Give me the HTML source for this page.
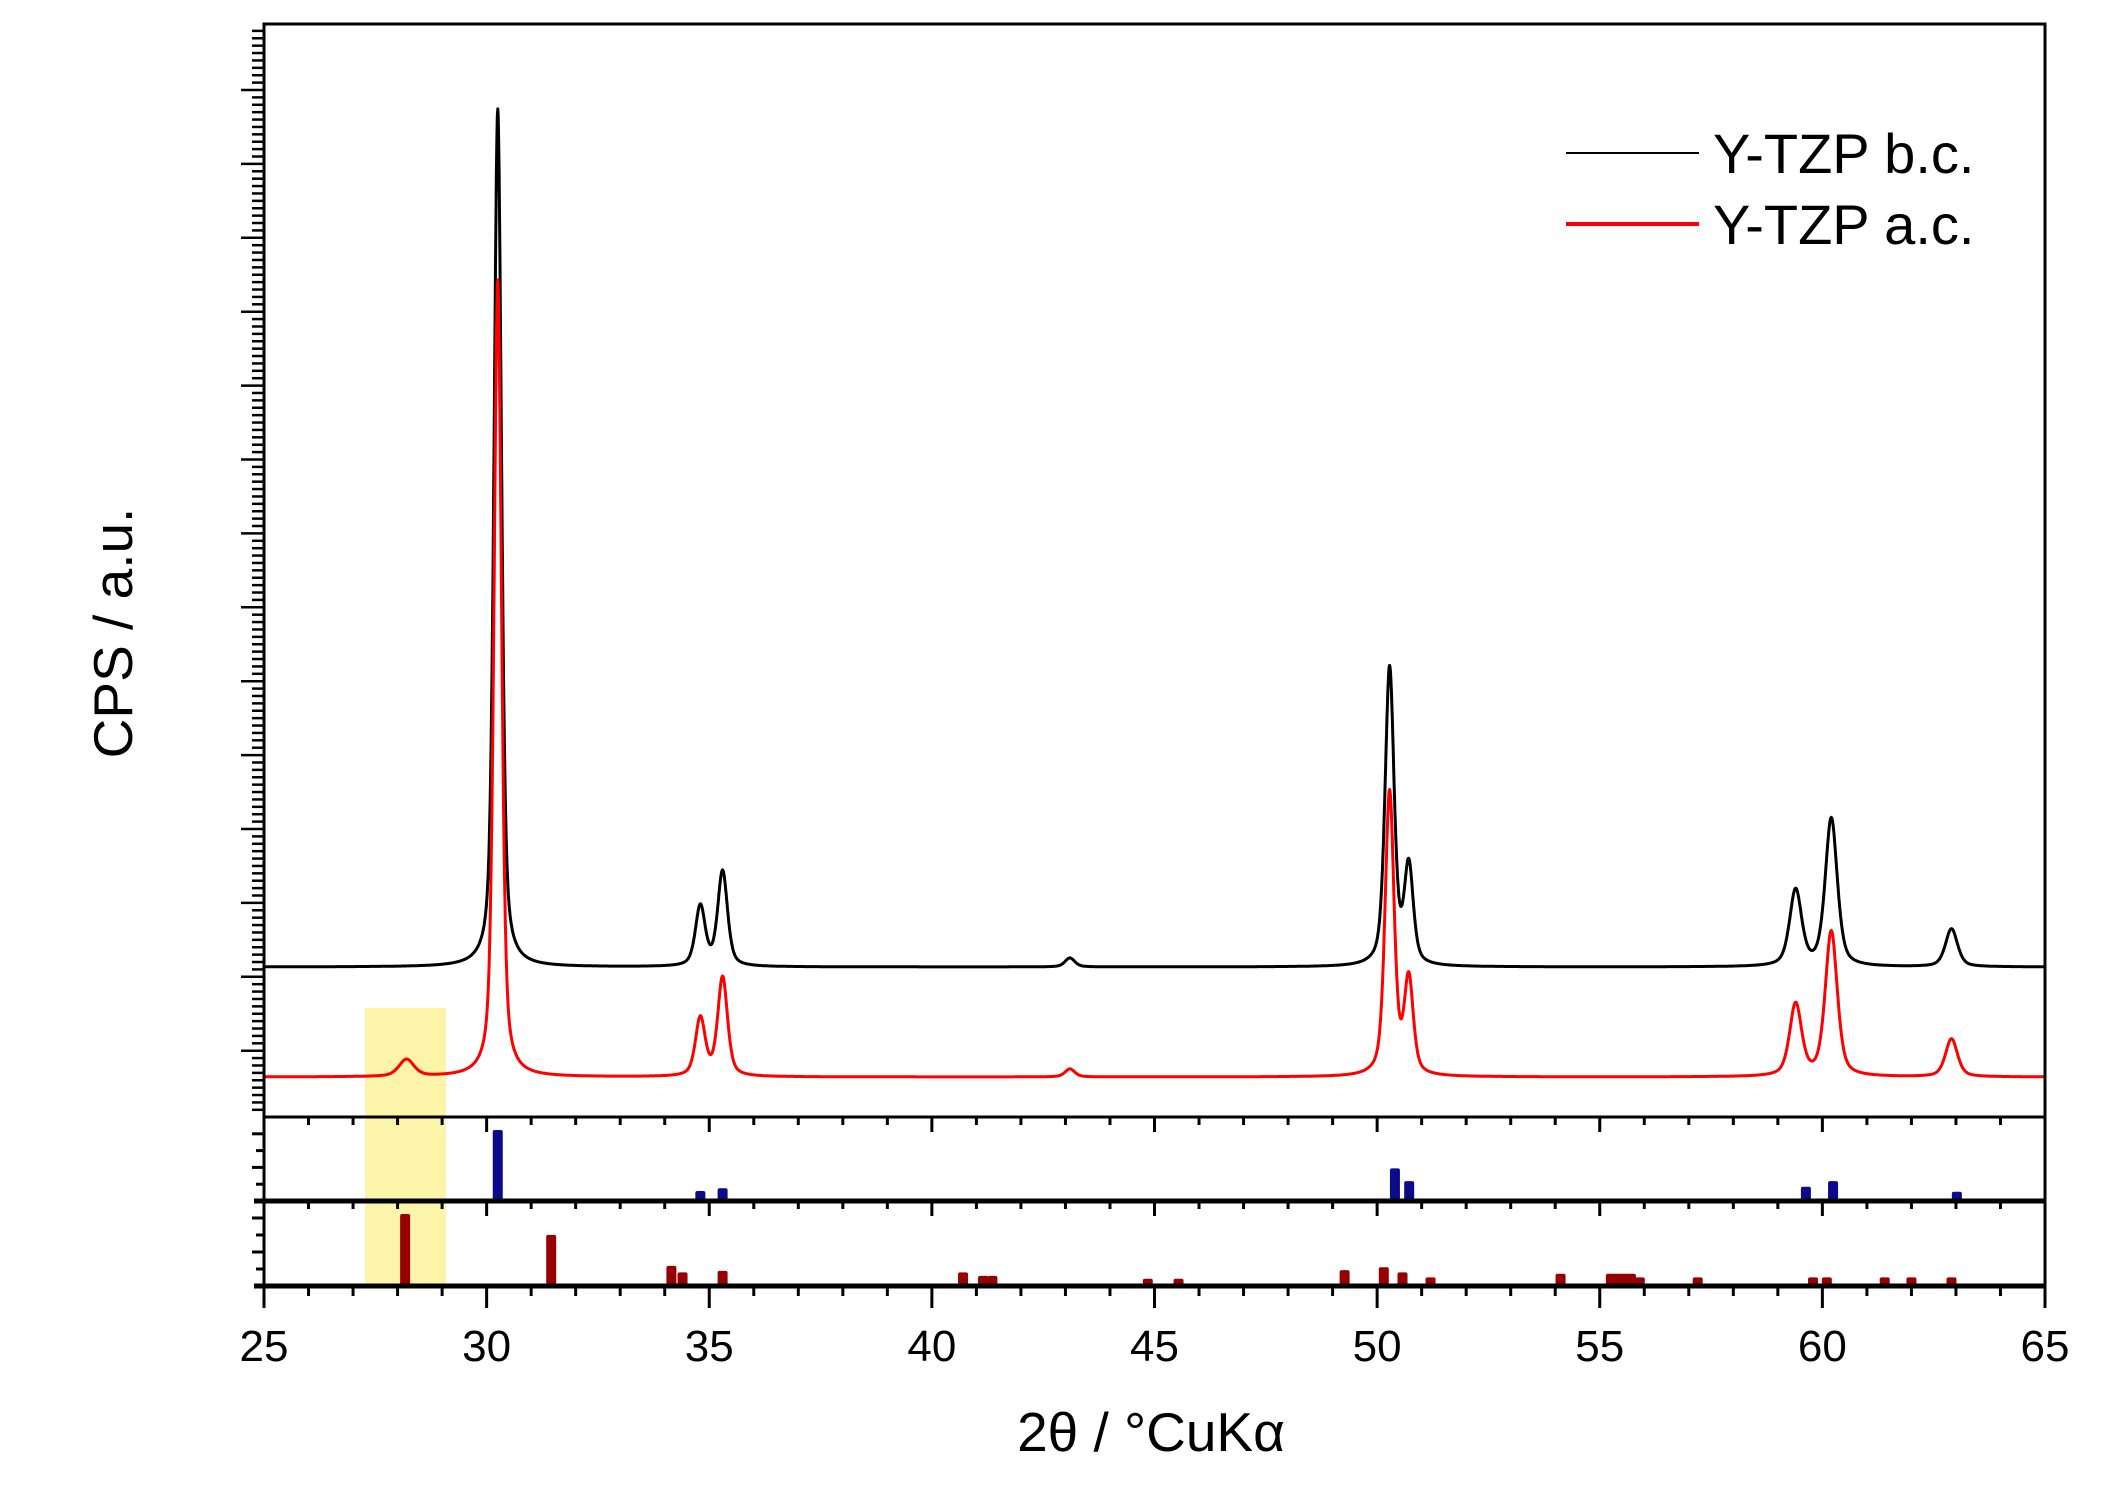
<!DOCTYPE html>
<html><head><meta charset="utf-8">
<style>
html,body{margin:0;padding:0;background:#fff;}
svg{display:block;}
text{font-family:"Liberation Sans",sans-serif;fill:#000;}
</style></head>
<body>
<svg id="chart" width="2111" height="1503" viewBox="0 0 2111 1503" xmlns="http://www.w3.org/2000/svg">
  <rect x="0" y="0" width="2111" height="1503" fill="#fff"/>
  <rect x="365" y="1008" width="81" height="278" fill="#faf29a" opacity="0.85"/>
  <g id="sticks"></g>
  <g id="curves"></g>
  <g id="axes"></g>
  <text x="1151" y="1451" font-size="55" text-anchor="middle">2θ / °CuKα</text>
  <text transform="translate(132,633) rotate(-90)" font-size="55" text-anchor="middle">CPS / a.u.</text>
  <g>
    <line x1="1566" y1="153" x2="1699" y2="153" stroke="#000" stroke-width="2"/>
    <text x="1713" y="173" font-size="56">Y-TZP b.c.</text>
    <line x1="1566" y1="224" x2="1699" y2="224" stroke="#f00" stroke-width="4"/>
    <text x="1713" y="244" font-size="56">Y-TZP a.c.</text>
  </g>
</svg>
<script>
// ---- data ----
const bcPos = [30.25, 34.8, 35.3, 43.1, 50.28, 50.71, 59.4, 60.2, 62.9];
const bcInt = [858, 60, 95, 9, 298, 98, 76, 148, 38];
const acPos = [28.2, 30.25, 34.8, 35.3, 43.1, 50.28, 50.71, 59.4, 60.2, 62.9];
const acInt = [17, 797, 58, 99, 8, 284, 95, 72, 145, 38];
const bluePos = [30.25, 34.8, 35.3, 50.4, 50.72, 59.63, 60.24, 63.02];
const blueInt = [100, 14, 18, 46, 28, 20, 28, 13];
const redPos = [28.17, 31.45, 34.15, 34.4, 35.3, 40.7, 41.15, 41.36, 44.85, 45.54, 49.27, 50.15, 50.57, 51.2, 54.12, 55.25, 55.4, 55.55, 55.7, 55.9, 57.2, 59.79, 60.1, 61.4, 62.0, 62.9];
const redInt = [100, 71, 28, 19, 21, 19, 14, 14, 10, 10, 22, 26, 19, 12, 17, 17, 17, 17, 17, 12, 12, 12, 12, 12, 12, 12];
const xTicks = [25, 30, 35, 40, 45, 50, 55, 60, 65];

// ---- scales ----
const X0 = 264, X1 = 2045, XMIN = 25, XMAX = 65;
const x = v => X0 + (v - XMIN) / (XMAX - XMIN) * (X1 - X0);
const TOP = 24, P1B = 1117, P2B = 1201, P3B = 1286;
const bcBase = 967, acBase = 1077;
const yMain = (c, base) => base - c;
const yBlue = p => P2B - p / 100 * 71;
const yRed = p => P3B - p / 100 * 72;
const NS = "http://www.w3.org/2000/svg";
function mk(tag, attrs, parent) {
  const e = document.createElementNS(NS, tag);
  for (const k in attrs) e.setAttribute(k, attrs[k]);
  parent.appendChild(e);
  return e;
}
function hw(p) { return p < 29 ? 0.2 : p < 32 ? 0.1 : (p < 45 ? 0.13 : (p < 55 ? 0.12 : 0.16)); }
function profile(pos, ints, t) {
  let s = 0;
  for (let i = 0; i < pos.length; i++) {
    const w = hw(pos[i]), d = (t - pos[i]) / w;
    s += ints[i] * (0.5 / (1 + d * d) + 0.5 * Math.exp(-0.693 * d * d));
  }
  return s;
}
function curve(pos, ints, base, color, width, name) {
  let d = "";
  for (let t = XMIN; t <= XMAX + 1e-9; t += 0.01) {
    d += (d ? "L" : "M") + x(t).toFixed(1) + " " + yMain(profile(pos, ints, t), base).toFixed(1);
  }
  const p = mk("path", {d: d, fill: "none", stroke: color, "stroke-width": width, "stroke-linejoin": "round"}, document.getElementById("curves"));
  
  
}
curve(bcPos, bcInt, bcBase, "#000", 3, "series-y-tzp-bc");
curve(acPos, acInt, acBase, "#f00", 3, "series-y-tzp-ac");

const sg = document.getElementById("sticks");
bluePos.forEach((p, i) => {
  const r = mk("rect", {x: x(p) - 5, y: yBlue(blueInt[i]), width: 10, height: P2B - yBlue(blueInt[i]), fill: "#0a0a8a", rx: 2}, sg);
  
  
});
redPos.forEach((p, i) => {
  const r = mk("rect", {x: x(p) - 5, y: yRed(redInt[i]), width: 10, height: P3B - yRed(redInt[i]), fill: "#960000", rx: 2}, sg);
  
  
});

// ---- axes ----
const ag = document.getElementById("axes");
const frame = mk("path", {d: `M${X0} ${P3B}V${TOP}H${X1}V${P3B}`, fill: "none", stroke: "#000", "stroke-width": 3}, ag);


[[P1B, 3], [P2B, 5], [P3B, 5]].forEach(([yy, w], i) => {
  const l = mk("line", {x1: X0 - (i ? 10 : 0), y1: yy, x2: X1, y2: yy, stroke: "#000", "stroke-width": w}, ag);
  
  
});
for (let v = XMIN; v <= XMAX; v++) {
  const major = v % 5 === 0;
  [[P1B, major ? 15 : 8], [P2B, major ? 15 : 8], [P3B, major ? 22 : 10]].forEach(([yy, len]) => {
    const t = mk("line", {x1: x(v), y1: yy, x2: x(v), y2: yy + len, stroke: "#000", "stroke-width": 3}, ag);
    
    
  });
}
xTicks.forEach(v => {
  const t = mk("text", {x: x(v), y: 1361, "font-size": 44, "text-anchor": "middle"}, ag);
  t.textContent = v;
  
  
});
for (let i = 0; ; i++) {
  const yy = 90 + (i - 9) * 7.39;
  if (yy > P1B - 2) break;
  if (yy < TOP + 2) continue;
  const major = (i - 9) % 10 === 0;
  const t = mk("line", {x1: X0 - (major ? 23 : 12), y1: yy, x2: X0, y2: yy, stroke: "#000", "stroke-width": 2.5}, ag);
  
  
}
[[P1B, P2B], [P2B, P3B]].forEach(([a, b]) => {
  for (let k = 1; k < 5; k++) {
    const yy = b - k * (b - a) / 5;
    const t = mk("line", {x1: X0 - (k === 2 || k === 4 ? 12 : 8), y1: yy, x2: X0, y2: yy, stroke: "#000", "stroke-width": 3}, ag);
    
    
  }
});
</script>
</body></html>
